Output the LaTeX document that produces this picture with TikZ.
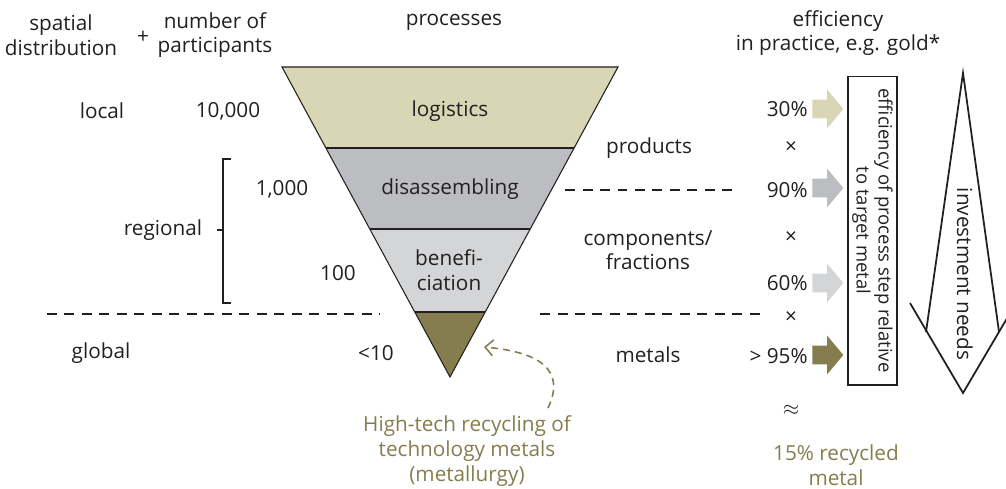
\documentclass[tikz,border=0pt]{standalone}
\usepackage{fontspec}
\setmainfont{Open Sans}
\usetikzlibrary{positioning,shapes.arrows,arrows.meta}
\definecolor{sand}{HTML}{D8D6B4}
\definecolor{steel}{HTML}{BCBDC0}
\definecolor{silver}{HTML}{D4D5D7}
\definecolor{olive}{HTML}{857D4E}
\definecolor{ink}{HTML}{231F20}
\tikzset{
  lbl/.style={text=ink, font=\fontsize{11.8}{14}\selectfont, align=center, inner sep=0pt},
  note/.style={lbl, text=olive},
  divider/.style={ink, line width=0.8pt, dash pattern=on 0.2cm off 0.15cm},
  yield/.style={single arrow, fill=#1, minimum height=0.62cm, inner xsep=0pt, inner ysep=0.18cm,
    single arrow head extend=0.2cm, single arrow tip angle=100, anchor=west},
}

\begin{document}
\begin{tikzpicture}[x=0.02cm, y=-0.02cm]
  \useasboundingbox (0,0) rectangle (1006,488);
  % headers
  \node[lbl] (spatial) at (61,35) {spatial\\distribution};
  \node[lbl] (plus) at (143,37) {+};
  \node[lbl] (number) at (215,35) {number of\\participants};
  \node[lbl] (processes) at (454,22) {processes};
  \node[lbl] (practice) at (838,33) {efficiency\\in practice, e.g. gold*};
  % funnel
  \coordinate (tl) at (282,67);
  \coordinate (tr) at (618,67);
  \coordinate (apex) at (450,377);
  \begin{scope}
    \clip (tl) -- (tr) -- (apex) -- cycle;
    \foreach \ya/\yb/\c in {60/148/sand, 148/229/steel, 229/312/silver, 312/380/olive}
      \fill[\c] (250,\ya) rectangle (650,\yb);
    \draw[ink, line width=0.6pt] (250,148) -- (650,148) (250,229) -- (650,229) (250,312) -- (650,312);
  \end{scope}
  \draw[ink, line width=0.6pt] (tl) -- (tr) -- (apex) -- cycle;
  \node[lbl] (logistics) at (450,111) {logistics};
  \node[lbl] (disassembling) at (450,189) {disassembling};
  \node[lbl] (beneficiation) at (449,270) {benefi-\\ciation};
  % left column
  \node[lbl] (local) at (102,111) {local};
  \node[lbl] (n10000) at (228,111) {10,000};
  \node[lbl] (n1000) at (282,189) {1,000};
  \node[lbl] (regional) at (163,230) {regional};
  \node[lbl] (n100) at (338,273) {100};
  \node[lbl] (global) at (101,353) {global};
  \node[lbl] (n10) at (376,353) {<10};
  \coordinate (brtop) at (231,159);
  \coordinate (brbot) at (231,303);
  \coordinate (brtick) at (217,230);
  \draw[ink, line width=0.7pt] (brtop) -| (223,303) -- (brbot);
  \draw[ink, line width=0.7pt] (brtick) -- (223,230);
  % middle column
  \node[lbl] (products) at (649,148) {products};
  \node[lbl] (components) at (648,250) {components/\\fractions};
  \node[lbl] (metals) at (648,355) {metals};
  % dividers
  \coordinate (dl1) at (47,314);
  \coordinate (dl2) at (380,314);
  \coordinate (dr1) at (540,314);
  \coordinate (dr2) at (767,314);
  \coordinate (du1) at (565,190);
  \coordinate (du2) at (738,190);
  \draw[divider] (dl1) -- (dl2);
  \draw[divider] (dr1) -- (dr2);
  \draw[divider] (du1) -- (du2);
  % efficiencies
  \node[lbl, anchor=east] (p30) at (808,109) {30\%};
  \node[lbl, anchor=east] (p90) at (808,190) {90\%};
  \node[lbl, anchor=east] (p60) at (808,283) {60\%};
  \node[lbl, anchor=east] (p95) at (808,356) {> 95\%};
  \node[yield=sand] (a30) at (812,109) {};
  \node[yield=steel] (a90) at (812,188) {};
  \node[yield=silver] (a60) at (812,283) {};
  \node[yield=olive] (a95) at (812,355) {};
  \node[lbl] (x1) at (791,148) {×};
  \node[lbl] (x2) at (791,238) {×};
  \node[lbl] (x3) at (791,318) {×};
  \node[lbl] (approx) at (791,410) {$\approx$};
  \node[draw=ink, line width=0.6pt, rotate=-90, minimum width=6.18cm, minimum height=0.98cm,
    align=center, inner sep=0pt, font=\fontsize{10.5}{12.5}\selectfont, text=ink]
    (stepbox) at (872.5,230.5) {efficiency of process step relative\\to target metal};
  % investment arrow
  \coordinate (itop) at (963,73);
  \coordinate (ileft) at (926,332);
  \coordinate (iright) at (999,332);
  \coordinate (wleft) at (910,303);
  \coordinate (wright) at (1016,303);
  \coordinate (itip) at (963,393);
  \draw[ink, line width=1pt] (ileft) -- (itop) -- (iright);
  \draw[ink, line width=1pt] (wleft) -- (itip) -- (wright);
  \node[lbl, rotate=-90] (investment) at (965,274) {investment needs};
  % notes
  \node[note] (hightech) at (467,451) {High-tech recycling of\\technology metals\\(metallurgy)};
  \node[note] (recycled) at (836,465) {15\% recycled\\metal};
  \coordinate (hstart) at (548,408);
  \coordinate (hend) at (484,347);
  \draw[olive, line width=0.9pt, dash pattern=on 0.14cm off 0.1cm, -{Straight Barb[length=1.6mm, width=3.2mm]}]
    (hstart) .. controls (566,370) and (540,352) .. (hend);
\end{tikzpicture}
\end{document}
